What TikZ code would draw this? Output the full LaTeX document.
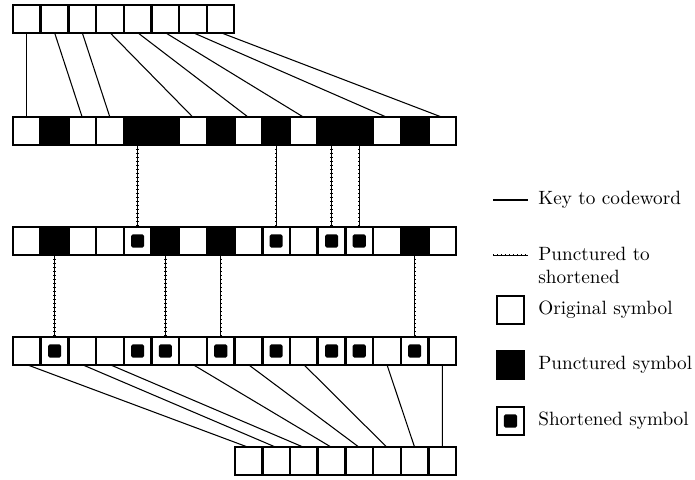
\documentclass[tikz,border=0pt]{standalone}
\usetikzlibrary{calc}
\begin{document}
\begin{tikzpicture}[x=0.52pt,y=-0.52pt,
  cell/.style={draw=black,line width=1.1pt,minimum size=14.2pt,inner sep=0pt,outer sep=0pt,anchor=center},
  symo/.style={cell,fill=white},
  symp/.style={cell,fill=black},
  syms/.style={cell,fill=white,path picture={\fill[black,rounded corners=0.8pt]
      ([shift={(-3.4pt,-3.4pt)}]path picture bounding box.center) rectangle ++(6.8pt,6.8pt);}},
  keyline/.style={line width=0.55pt},
  dotline/.style={line width=1.2pt,dash pattern=on 0.5pt off 1.6pt,
      postaction={draw,solid,line width=0.45pt}},
  legtext/.style={anchor=west,inner sep=0pt,align=left}]
\useasboundingbox (0,0) rectangle (695,479);
% row 1
\foreach \i in {0,...,7}
  \node[symo] (a\i) at ({13+(\i+0.5)*27.7},19) {};
% row 2
\foreach \t [count=\i from 0] in {o,p,o,o,p,p,o,p,o,p,o,p,p,o,p,o}
  \node[sym\t] (b\i) at ({13+(\i+0.5)*27.7},131) {};
% row 3
\foreach \t [count=\i from 0] in {o,p,o,o,s,p,o,p,o,s,o,s,s,o,p,o}
  \node[sym\t] (c\i) at ({13+(\i+0.5)*27.7},241) {};
% row 4
\foreach \t [count=\i from 0] in {o,s,o,o,s,s,o,s,o,s,o,s,s,o,s,o}
  \node[sym\t] (d\i) at ({13+(\i+0.5)*27.7},351) {};
% row 5
\foreach \i in {0,...,7}
  \node[symo] (e\i) at ({234.6+(\i+0.5)*27.7},461) {};
% connectors
\foreach \j [count=\i from 0] in {0,2,3,6,8,10,13,15}
  \draw[keyline] (a\i.south) -- (b\j.north);
\foreach \j in {4,9,11,12}
  \draw[dotline] (b\j.south) -- (c\j.north);
\foreach \j in {1,5,7,14}
  \draw[dotline] (c\j.south) -- (d\j.north);
\foreach \j [count=\i from 0] in {0,2,3,6,8,10,13,15}
  \draw[keyline] (d\j.south) -- (e\i.north);
% legend
\coordinate (k1) at (493,200);
\coordinate (k2) at (528,200);
\draw[keyline] (k1) -- (k2);
\node[legtext] (t1) at (538,200) {Key to codeword};
\coordinate (p1) at (493,255);
\coordinate (p2) at (528,255);
\draw[dotline] (p1) -- (p2);
\node[legtext,anchor=north west] (t2) at (538,247) {Punctured to\\shortened};
\node[symo] (lo) at (510.5,310) {};
\node[legtext] (t3) at (538,310) {Original symbol};
\node[symp] (lp) at (510.5,365) {};
\node[legtext] (t4) at (538,365) {Punctured symbol};
\node[syms] (ls) at (510.5,421) {};
\node[legtext] (t5) at (538,421) {Shortened symbol};
\end{tikzpicture}
\end{document}
